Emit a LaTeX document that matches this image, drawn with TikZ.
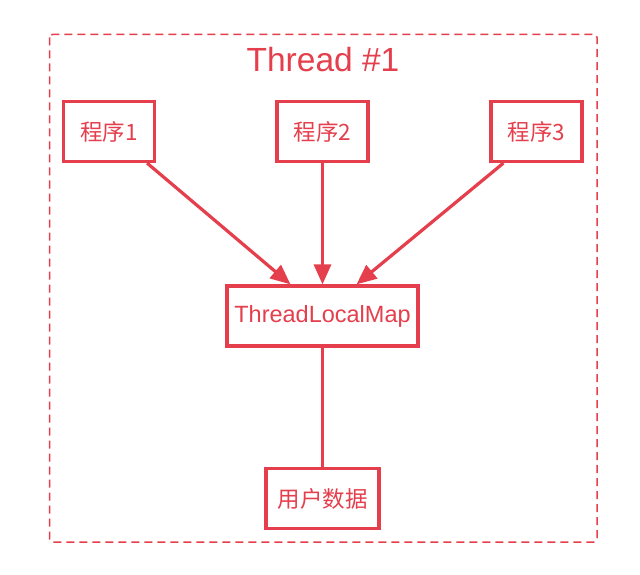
\documentclass[tikz,border=0pt]{standalone}
\usepackage{fontspec}
\setmainfont{Liberation Sans}
\newfontfamily\cjk{Noto Sans CJK SC}
\usetikzlibrary{arrows.meta,calc}
\definecolor{rd}{RGB}{229,62,76}
\tikzset{
  box/.style={draw=rd, line width=3.2pt, text=rd, inner sep=0pt, font=\cjk\fontsize{22.5}{24}\selectfont},
  arr/.style={draw=rd, line width=3.2pt, -{Triangle[length=20pt,width=17pt]}},
  conn/.style={draw=rd, line width=3.2pt},
}
\begin{document}
\begin{tikzpicture}[x=1pt,y=-1pt]
\useasboundingbox[fill=white] (0,0) rectangle (640,575);
\draw[rd, line width=1.5pt, dash pattern=on 8pt off 5pt, rounded corners=3pt] (49.5,34.5) rectangle (597,542);
\node[text=rd, font=\fontsize{33.5}{36}\selectfont] (title) at (323,60) {Thread \#1};
\node[box, minimum width=91pt, minimum height=60pt] (b1) at (109,131.5) {程序1};
\node[box, minimum width=91pt, minimum height=60pt] (b2) at (322.5,131.5) {程序2};
\node[box, minimum width=91pt, minimum height=60pt] (b3) at (536.5,131.5) {程序3};
\node[box, minimum width=191pt, minimum height=60pt, font=\fontsize{23.5}{26}\selectfont] (tlm) at (322.5,316) {ThreadLocalMap};
\node[box, minimum width=113pt, minimum height=60pt] (ud) at (322.5,498.5) {用户数据};
\draw[arr] ([xshift=-9pt]b1.south east) -- ([xshift=-32pt]tlm.north);
\draw[arr] (b2.south) -- (tlm.north);
\draw[arr] ([xshift=14pt]b3.south west) -- ([xshift=34pt]tlm.north);
\draw[conn] (ud.north) -- (tlm.south);
\end{tikzpicture}
\end{document}
